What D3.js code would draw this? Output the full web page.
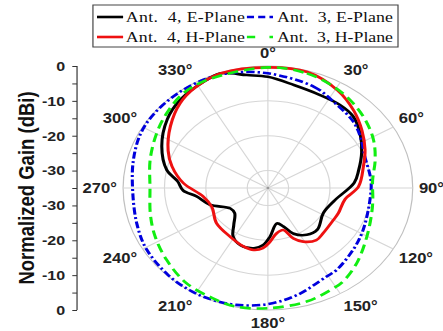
<!DOCTYPE html>
<html>
<head>
<meta charset="utf-8">
<script src="https://cdn.jsdelivr.net/npm/d3@7"></script>
<style>
  html, body { margin: 0; padding: 0; background: #fff; }
  svg { display: block; }
</style>
</head>
<body>
<script>
// Polar radiation patterns, normalized gain in dB (0 = peak, -35 = centre)
const angleTicks = [0, 30, 60, 90, 120, 150, 180, 210, 240, 270, 300, 330];
const ringLevels = [-30, -20, -10, 0];
const gainMin = -35;
const gainMax = 0;

// Ant. 4, E-Plane
const ant4E_deg  = [0, 12, 25, 36, 45, 55, 66, 77, 86, 102, 118, 135, 145, 155, 161, 168, 178, 184, 191, 202, 211, 218, 228, 237, 251, 262, 268, 275, 282, 295, 309, 320, 334, 341, 351];
const ant4E_gain = [-3.1, -4.8, -5.5, -5.5, -5.9, -7.8, -10.2, -12.5, -14.1, -18.4, -19.8, -18.1, -18.6, -20.6, -23.3, -24.6, -21.0, -18.6, -17.4, -17.3, -18.7, -21.6, -24.2, -24.2, -20.2, -17.6, -14.5, -13.1, -10.0, -6.7, -3.7, -2.0, -0.7, -0.2, -2.2];

// Ant. 4, H-Plane
const ant4H_deg  = [0, 16, 31, 43, 54, 65, 75, 89, 100, 113, 120, 134, 142, 151, 157, 163, 171, 178, 184, 191, 199, 213, 231, 248, 261, 274, 285, 294, 307, 319, 329, 341];
const ant4H_gain = [-0.4, -0.4, -2.3, -4.6, -6.9, -9.1, -11.1, -13.1, -16.1, -16.5, -16.7, -16.4, -16.0, -17.4, -19.3, -22.4, -21.8, -19.6, -17.7, -16.9, -17.2, -18.3, -19.0, -20.4, -19.2, -14.5, -11.0, -8.6, -5.5, -2.7, -1.2, -0.2];

// Ant. 3, E-Plane
const ant3E_deg  = [0, 21, 35, 47, 57, 69, 85, 98, 118, 131, 145, 151, 167, 180, 193, 204, 213, 224, 239, 252, 269, 284, 297, 308, 321, 334, 345];
const ant3E_gain = [-2.1, -3.9, -5.9, -6.9, -8.3, -9.9, -10.0, -10.1, -9.0, -7.8, -6.2, -5.9, -3.5, -1.7, -0.6, -0.2, -0.1, -0.3, -0.8, -1.7, -2.3, -1.5, -0.5, -0.2, -0.2, -0.3, -0.8];

// Ant. 3, H-Plane
const ant3H_deg  = [0, 16, 29, 40, 51, 62, 73, 85, 98, 106, 120, 135, 146, 152, 164, 180, 193, 203, 216, 230, 243, 255, 270, 286, 300, 311, 323, 335];
const ant3H_gain = [-0.4, -0.8, -1.9, -3.1, -4.5, -6.05, -7.9, -9.6, -9.4, -8.9, -7.35, -4.6, -2.6, -2.1, -1.1, -0.5, -0.1, -0.7, -1.35, -3.0, -4.4, -5.6, -6.5, -5.4, -3.9, -2.5, -1.0, -0.7];

const seriesNames = ["Ant. 4, E-Plane", "Ant. 3, E-Plane", "Ant. 4, H-Plane", "Ant. 3, H-Plane"];

const series = [
  { name: seriesNames[0], deg: ant4E_deg, gain: ant4E_gain, color: "#000000", dash: null,          legendDash: null },
  { name: seriesNames[1], deg: ant3E_deg, gain: ant3E_gain, color: "#0000dd", dash: "7,2.5,2,2.5", legendDash: "6,3.5" },
  { name: seriesNames[2], deg: ant4H_deg, gain: ant4H_gain, color: "#ee1111", dash: null,          legendDash: null },
  { name: seriesNames[3], deg: ant3H_deg, gain: ant3H_gain, color: "#11ee11", dash: "9,5",         legendDash: "7,12" }
];

// The figure is laid out in an un-stretched frame, then widened horizontally.
const W = 443, H = 331;
const SX = 1.187;
const CX = 225.7, CY = 188, R = 122;

const r = d3.scaleLinear().domain([gainMin, gainMax]).range([0, R]);
const toRad = d => d * Math.PI / 180;

const svg = d3.select("body").append("svg")
  .attr("width", W).attr("height", H);

const root = svg.append("g").attr("transform", `scale(${SX},1)`);
const plot = root.append("g").attr("transform", `translate(${CX},${CY})`);

// grid rings
plot.append("g").selectAll("circle")
  .data(ringLevels)
  .join("circle")
  .attr("r", d => r(d))
  .attr("fill", "none")
  .attr("stroke", d => d === gainMax ? "#c0c0c0" : "#d6d6d6")
  .attr("stroke-width", 1);

// spokes
plot.append("g").selectAll("line")
  .data(angleTicks)
  .join("line")
  .attr("x1", 0).attr("y1", 0)
  .attr("x2", d => r(gainMax) * Math.sin(toRad(d)))
  .attr("y2", d => -r(gainMax) * Math.cos(toRad(d)))
  .attr("stroke", "#d6d6d6")
  .attr("stroke-width", 1);

plot.append("circle").attr("r", 1.2).attr("fill", "#999");

// pattern curves
const radial = d3.lineRadial()
  .angle(d => toRad(d[0]))
  .radius(d => r(d[1]))
  .curve(d3.curveCatmullRomClosed.alpha(0.5));

plot.append("g").selectAll("path")
  .data(series)
  .join("path")
  .attr("d", s => radial(s.deg.map((a, i) => [a, s.gain[i]])))
  .attr("fill", "none")
  .attr("stroke", s => s.color)
  .attr("stroke-width", 2.6)
  .attr("stroke-dasharray", s => s.dash)
  .attr("stroke-linejoin", "round");

// angle labels
const LRX = 127.2, LRY = 130;
root.append("g").selectAll("text")
  .data(angleTicks)
  .join("text")
  .attr("x", d => {
    const s = Math.sin(toRad(d));
    return CX + (Math.abs(s) < 0.01 ? 0 : LRX * s);
  })
  .attr("y", d => {
    const c = Math.cos(toRad(d));
    return CY - (Math.abs(c) < 0.01 ? 0 : LRY * c + 5 * Math.sign(c));
  })
  .attr("text-anchor", d => {
    const s = Math.sin(toRad(d));
    return Math.abs(s) < 0.01 ? "middle" : (s > 0 ? "start" : "end");
  })
  .attr("dominant-baseline", "central")
  .attr("font-family", "'Liberation Sans', Arial, sans-serif")
  .attr("font-weight", "bold")
  .attr("font-size", 14)
  .attr("fill", "#222")
  .text(d => d + "°");

// mirrored radial gain axis on the left
const AX = 64.9;
const yAxisScale = d3.scaleLinear().domain([-35, 35]).range([CY + R, CY - R]);
const axisTicks = d3.range(-35, 35.1, 5);
const yAxis = d3.axisLeft(yAxisScale)
  .tickValues(axisTicks)
  .tickSize(4)
  .tickPadding(6)
  .tickFormat(u => {
    const g = Math.abs(u) - 35;
    return (g % 10 === 0 && g !== -35) ? String(g) : "";
  });

const axisG = root.append("g").attr("transform", `translate(${AX},0)`).call(yAxis);
axisG.select(".domain").attr("stroke", "#333").attr("d", `M-0,${CY - R}H0V${CY + R}H-0`);
axisG.selectAll(".tick line").attr("stroke", "#333");
axisG.selectAll(".tick text")
  .attr("font-family", "'Liberation Sans', Arial, sans-serif")
  .attr("font-weight", "bold")
  .attr("font-size", 13.5)
  .attr("fill", "#222");

root.append("text")
  .attr("transform", `translate(22.5,${CY}) rotate(-90)`)
  .attr("text-anchor", "middle")
  .attr("dominant-baseline", "central")
  .attr("font-family", "'Liberation Sans', Arial, sans-serif")
  .attr("font-weight", "bold")
  .attr("font-size", 18.5)
  .attr("fill", "#111")
  .text("Normalized Gain (dBi)");

// legend
const legend = root.append("g");
legend.append("rect")
  .attr("x", 78.3).attr("y", 5).attr("width", 257).attr("height", 42)
  .attr("fill", "#fff").attr("stroke", "#444").attr("stroke-width", 1);

const cols = [{ lx: 81.7, tx: 106, tw: 100.4 }, { lx: 208, tx: 233.4, tw: 97.7 }];
const rows = [17, 37];
const items = legend.selectAll("g.item")
  .data(series)
  .join("g")
  .attr("class", "item")
  .attr("transform", (s, i) => `translate(0,${rows[Math.floor(i / 2)]})`);

items.append("line")
  .attr("x1", (s, i) => cols[i % 2].lx)
  .attr("x2", (s, i) => cols[i % 2].lx + 22)
  .attr("y1", 0).attr("y2", 0)
  .attr("stroke", s => s.color)
  .attr("stroke-width", 2.6)
  .attr("stroke-dasharray", s => s.legendDash);

items.append("text")
  .attr("x", (s, i) => cols[i % 2].tx)
  .attr("y", 0)
  .attr("dominant-baseline", "central")
  .attr("textLength", (s, i) => cols[i % 2].tw)
  .attr("lengthAdjust", "spacing")
  .attr("font-family", "'Liberation Serif', 'Times New Roman', serif")
  .attr("font-size", 15)
  .attr("fill", "#111")
  .style("white-space", "pre")
  .text(s => s.name.replace(". ", ".  "));
</script>
</body>
</html>
